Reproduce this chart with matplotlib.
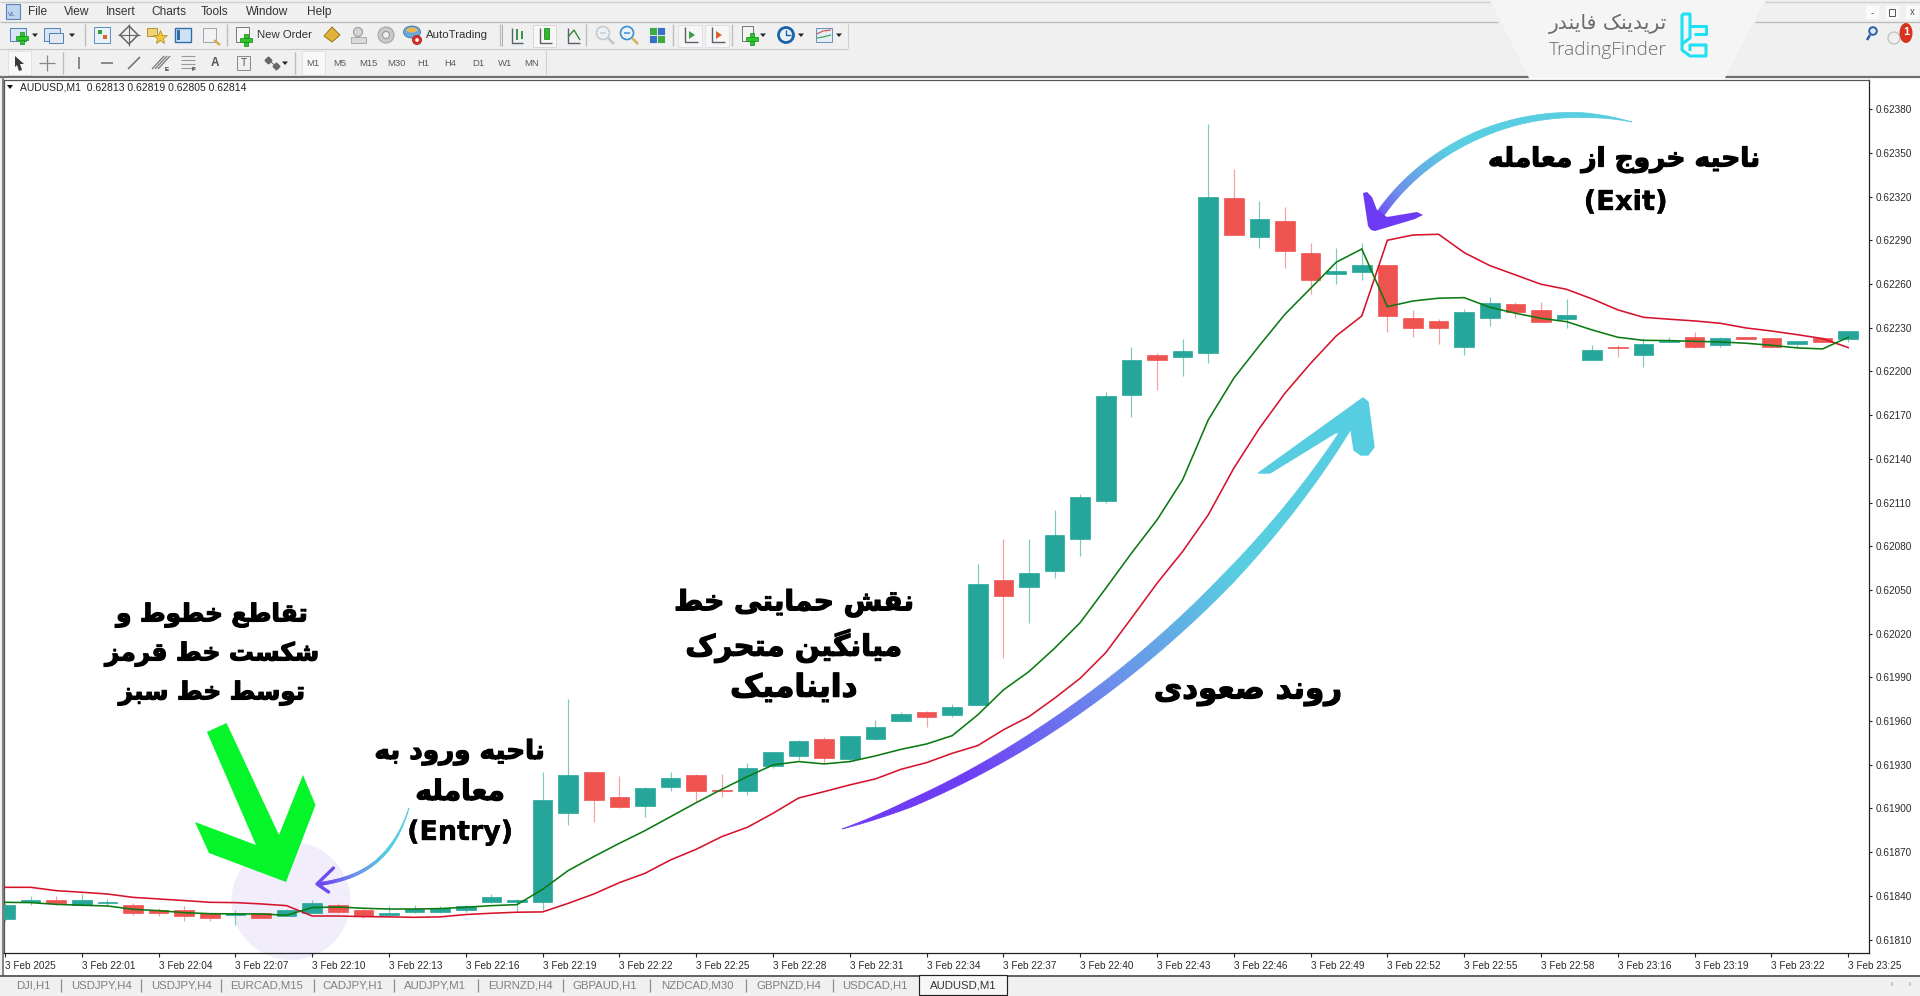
import numpy as np
import matplotlib
matplotlib.use("Agg")
import matplotlib.pyplot as plt
import matplotlib.patheffects as pe
from matplotlib.patches import Rectangle, Polygon, Circle, Ellipse
from matplotlib.collections import PolyCollection

# ---------- data (price in 1e-5 units) ----------
open_pts = [61824,61836,61837,61834,61835,61834,61830,61830,61828,61827,
            61828,61826,61828,61834,61830,61827,61829,61829,61830,61836,
            61836,61836,61897,61925,61908,61902,61915,61923,61913,61912,
            61929,61936,61948,61934,61948,61960,61966,61964,61971,62057,
            62052,62063,62085,62111,62184,62211,62210,62213,62319,62292,
            62303,62281,62267,62268,62273,62237,62235,62217,62237,62246,
            62242,62236,62208,62217,62211,62220,62224,62218,62224,62223,
            62219,62223,62222]
high_pts = [61835,61840,61840,61841,61838,61835,61832,61833,61828,61830,
            61828,61831,61837,61835,61831,61833,61834,61833,61834,61841,
            61838,61925,61975,61925,61922,61915,61925,61924,61924,61931,
            61939,61947,61949,61950,61961,61966,61967,61972,62068,62085,
            62085,62105,62116,62186,62217,62213,62222,62370,62339,62317,
            62313,62288,62285,62288,62273,62242,62236,62243,62251,62248,
            62248,62250,62218,62218,62223,62224,62227,62224,62224,62223,
            62221,62224,62228]
low_pts = [61823,61834,61834,61833,61833,61827,61826,61823,61823,61820,
           61825,61826,61828,61828,61825,61826,61828,61828,61829,61835,
           61829,61830,61889,61891,61900,61894,61912,61905,61908,61909,
           61928,61933,61931,61932,61947,61960,61956,61963,61971,62003,
           62027,62058,62073,62110,62169,62187,62197,62206,62294,62285,
           62271,62253,62260,62263,62227,62224,62219,62211,62231,62237,
           62234,62230,62208,62210,62203,62220,62216,62217,62222,62216,
           62216,62220,62220]
close_pts = [61834,61837,61835,61837,61836,61828,61828,61826,61825,61828,
             61825,61830,61835,61829,61826,61828,61831,61832,61833,61839,
             61837,61906,61923,61906,61901,61914,61921,61912,61912,61928,
             61939,61946,61935,61950,61956,61965,61963,61970,62054,62046,
             62062,62088,62114,62183,62208,62208,62214,62320,62294,62305,
             62283,62263,62269,62273,62238,62230,62230,62241,62247,62241,
             62234,62239,62215,62216,62219,62221,62217,62223,62222,62217,
             62221,62220,62228]
red_line_pts = [61845.9,61845.9,61843.6,61842.5,61841.3,61839.0,61837.9,61836.8,61835.6,61835.4,
                61834.5,61833.3,61826.2,61826.2,61825.8,61825.6,61825.3,61825.6,61827.2,61828.1,
                61828.8,61829.0,61834.9,61841.3,61849.1,61855.5,61864.7,61872.0,61880.7,61887.1,
                61896.7,61907.2,61911.6,61916.2,61920.3,61926.9,61931.5,61937.9,61943.2,61954.0,
                61963.1,61975.7,61989.4,62007.0,62030.6,62054.6,62076.4,62101.5,62133.6,62161.0,
                62185.1,62205.6,62224.4,62238.1,62290.1,62293.7,62294.2,62281.6,62272.7,62266.3,
                62259.9,62256.4,62249.8,62242.3,62237.2,62235.9,62234.7,62233.1,62229.9,62227.8,
                62225.3,62222.6,62216.4]
green_line_pts = [61835.6,61835.4,61834.2,61833.6,61833.1,61830.8,61829.9,61828.5,61827.8,61827.6,
                  61827.6,61826.7,61832.0,61832.4,61831.5,61831.0,61831.0,61831.3,61832.2,61833.3,
                  61834.0,61844.5,61857.4,61867.0,61876.1,61884.8,61894.4,61904.0,61913.2,61921.9,
                  61929.9,61932.2,61930.6,61932.2,61936.1,61940.6,61944.3,61950.0,61964.3,61981.4,
                  61994.0,62010.0,62027.6,62051.2,62075.2,62098.1,62125.6,62166.7,62195.4,62217.8,
                  62239.3,62257.1,62275.0,62284.1,62244.5,62248.4,62250.3,62250.7,62244.1,62240.0,
                  62236.5,62234.2,62228.5,62223.5,62221.4,62221.2,62220.7,62220.3,62219.4,62218.0,
                  62216.2,62215.5,62223.5]
x_tick_labels = ["3 Feb 2025","3 Feb 22:01","3 Feb 22:04","3 Feb 22:07","3 Feb 22:10","3 Feb 22:13",
                 "3 Feb 22:16","3 Feb 22:19","3 Feb 22:22","3 Feb 22:25","3 Feb 22:28","3 Feb 22:31",
                 "3 Feb 22:34","3 Feb 22:37","3 Feb 22:40","3 Feb 22:43","3 Feb 22:46","3 Feb 22:49",
                 "3 Feb 22:52","3 Feb 22:55","3 Feb 22:58","3 Feb 23:16","3 Feb 23:19","3 Feb 23:22",
                 "3 Feb 23:25"]
y_tick_values = [0.62380,0.62350,0.62320,0.62290,0.62260,0.62230,0.62200,0.62170,0.62140,0.62110,
                 0.62080,0.62050,0.62020,0.61990,0.61960,0.61930,0.61900,0.61870,0.61840,0.61810]
tab_labels = ["DJI,H1","USDJPY,H4","USDJPY,H4","EURCAD,M15","CADJPY,H1","AUDJPY,M1","EURNZD,H4",
              "GBPAUD,H1","NZDCAD,M30","GBPNZD,H4","USDCAD,H1","AUDUSD,M1"]
menu_labels = ["File","View","Insert","Charts","Tools","Window","Help"]
period_labels = ["M1","M5","M15","M30","H1","H4","D1","W1","MN"]
chart_header = "AUDUSD,M1  0.62813 0.62819 0.62805 0.62814"

# ---------- Persian shaping (matplotlib draws no joins or RTL by itself) ----------
FORMS = {'ا':(0xFE8D,0xFE8E,None,None),'ب':(0xFE8F,0xFE90,0xFE91,0xFE92),'ت':(0xFE95,0xFE96,0xFE97,0xFE98),
 'ج':(0xFE9D,0xFE9E,0xFE9F,0xFEA0),'ح':(0xFEA1,0xFEA2,0xFEA3,0xFEA4),'خ':(0xFEA5,0xFEA6,0xFEA7,0xFEA8),
 'د':(0xFEA9,0xFEAA,None,None),'ر':(0xFEAD,0xFEAE,None,None),'ز':(0xFEAF,0xFEB0,None,None),
 'س':(0xFEB1,0xFEB2,0xFEB3,0xFEB4),'ش':(0xFEB5,0xFEB6,0xFEB7,0xFEB8),'ص':(0xFEB9,0xFEBA,0xFEBB,0xFEBC),
 'ط':(0xFEC1,0xFEC2,0xFEC3,0xFEC4),'ع':(0xFEC9,0xFECA,0xFECB,0xFECC),'ف':(0xFED1,0xFED2,0xFED3,0xFED4),
 'ق':(0xFED5,0xFED6,0xFED7,0xFED8),'ل':(0xFEDD,0xFEDE,0xFEDF,0xFEE0),'م':(0xFEE1,0xFEE2,0xFEE3,0xFEE4),
 'ن':(0xFEE5,0xFEE6,0xFEE7,0xFEE8),'ه':(0xFEE9,0xFEEA,0xFEEB,0xFEEC),'و':(0xFEED,0xFEEE,None,None),
 'ی':(0xFBFC,0xFBFD,0xFBFE,0xFBFF),'ک':(0xFB8E,0xFB8F,0xFB90,0xFB91),'گ':(0xFB92,0xFB93,0xFB94,0xFB95)}

def fa(s):
    out = []
    for i, c in enumerate(s):
        f = FORMS.get(c)
        if f is None:
            out.append(c)
            continue
        prev = FORMS.get(s[i-1]) if i > 0 else None
        nxt = FORMS.get(s[i+1]) if i+1 < len(s) else None
        jp = prev is not None and prev[2] is not None
        jn = nxt is not None and f[2] is not None
        code = f[3] if (jp and jn) else f[1] if jp else f[2] if jn else f[0]
        out.append(chr(code))
    return ''.join(reversed(out))

# ---------- figure and layers ----------
W, H = 1920, 996
fig = plt.figure(figsize=(W/100, H/100), dpi=100)
UI = ['Liberation Sans', 'DejaVu Sans']
bg = fig.add_axes([0, 0, 1, 1], zorder=0)
bg.set_xlim(0, W); bg.set_ylim(H, 0); bg.axis('off')
L, R, T, B = 4, 1869, 80, 953
ax = fig.add_axes([L/W, 1-B/H, (R-L)/W, (B-T)/H], zorder=1)
ax.patch.set_alpha(0)
top = fig.add_axes([0, 0, 1, 1], zorder=2)
top.set_xlim(0, W); top.set_ylim(H, 0); top.axis('off'); top.patch.set_alpha(0)

def rect(x, y, w, h, fc='none', ec='none', lw=0.7, a=bg, z=2):
    a.add_patch(Rectangle((x, y), w, h, facecolor=fc, edgecolor=ec, linewidth=lw, zorder=z))
def line(xs, ys, c='#888888', lw=0.8, a=bg, z=3):
    a.plot(xs, ys, color=c, lw=lw, zorder=z, solid_capstyle='butt')
def txt(x, y, s, size=8.2, c='#333333', ha='left', a=bg, **k):
    return a.text(x, y, s, fontsize=size, color=c, ha=ha, va='center', family=UI, zorder=5, **k)

# ---------- window chrome ----------
rect(0, 0, W, H, fc='#F0F0F0', z=0)
rect(4, 78, W-4, 898, fc='white', z=1)
line([0, 1490], [1.5, 1.5], '#CFCFCF', 1); line([1765, 1920], [1.5, 1.5], '#CFCFCF', 1)
line([0, 1498], [21.5, 21.5], '#B9B9B9', 0.9); line([1755, 1920], [21.5, 21.5], '#B9B9B9', 0.9)
line([0, 848], [48.5, 48.5], '#C8C8C8', 0.8)
line([0, 1530], [76.5, 76.5], '#6E6E6E', 1.6); line([1725, 1920], [76.5, 76.5], '#6E6E6E', 1.6)
line([3, 3], [76, 976], '#7A7A7A', 1.3)
line([0, W], [975.5, 975.5], '#555555', 1.3)
bg.add_patch(Polygon([(1490, 0), (1765, 0), (1725, 78), (1529, 78)], closed=True, fc='#F5F5F5', ec='none', zorder=4))

# menu
for s, x in zip(menu_labels, [28, 64, 106, 151, 201, 246, 307]):
    txt(x, 12, s, 8.6)
rect(6, 4, 14, 15, fc='#BFD4EE', ec='#5B83B8', lw=0.8)
txt(8, 14, "VL", 4.5, c='#2D5C9C')

# tiny toolbar icons
def chart_icon(x, y):
    rect(x-9, y-7, 16, 13, fc='#D6E4F5', ec='#4F7FB5')
def plus(x, y):
    rect(x-2, y-6, 4, 12, fc='#2EC42E', ec='#128A12', lw=0.5, z=3)
    rect(x-6, y-2, 12, 4, fc='#2EC42E', ec='#128A12', lw=0.5, z=3)
def drop(x, y):
    bg.add_patch(Polygon([(x-3, y-1.5), (x+3, y-1.5), (x, y+2)], closed=True, fc='#222222', zorder=3))
def sep(x, y0, y1):
    line([x, x], [y0, y1], '#BDBDBD', 1)

c1 = 35
chart_icon(19, c1); plus(22, c1+3); drop(35, c1)
chart_icon(53, c1); rect(49, c1-2, 14, 10, fc='#E4EAF2', ec='#4F7FB5'); drop(72, c1)
sep(85, 24, 46)
rect(94, c1-8, 16, 16, fc='#E9F2FB', ec='#5B8DBF'); rect(98, c1-5, 4, 4, fc='#30A030', z=3); rect(103, c1, 4, 4, fc='#D9662B', z=3)
bg.add_patch(Polygon([(129, c1-9), (138, c1), (129, c1+9), (120, c1)], closed=True, fc='none', ec='#666666', lw=1.1, zorder=3))
line([129, 129], [c1-11, c1+11], '#666666', 0.8); line([118, 140], [c1, c1], '#666666', 0.8)
rect(147, c1-7, 10, 8, fc='#F1D37A', ec='#B6932C'); bg.plot([160], [c1+2], marker='*', ms=10, color='#F2C93B', mec='#B6932C', mew=0.6, zorder=3)
rect(175, c1-7, 16, 14, fc='#CFE2F5', ec='#2F6DA8', lw=1); rect(177, c1-5, 3, 10, fc='#2F6DA8', z=3)
rect(203, c1-7, 13, 14, fc='#F2F2F2', ec='#9AA6B4'); line([214, 220], [c1+5, c1+10], '#D8A93A', 1.6)
sep(227, 24, 46)
rect(236, c1-8, 13, 15, fc='#F7F7F7', ec='#777777'); plus(246, c1+5)
txt(257, c1, "New Order", 8.2)
bg.add_patch(Polygon([(332, c1-8), (340, c1), (332, c1+7), (324, c1+1)], closed=True, fc='#E2B23B', ec='#9A7418', lw=0.7, zorder=3))
bg.add_patch(Circle((358, c1-3), 4.5, fc='#D6D6D6', ec='#999999', lw=0.8, zorder=3)); rect(351, c1+2, 15, 6, fc='#DADADA', ec='#AAAAAA')
bg.add_patch(Circle((386, c1), 8, fc='#C9C9C9', ec='#A5A5A5', lw=0.8, zorder=3)); bg.add_patch(Circle((386, c1), 3.5, fc='#EFEFEF', ec='#999999', lw=0.8, zorder=3))
bg.add_patch(Ellipse((412, c1-3), 17, 12, fc='#6EA8D8', ec='#3C76A8', lw=0.6, zorder=3)); bg.add_patch(Ellipse((412, c1-5), 11, 5, fc='#E8B84A', zorder=3))
bg.add_patch(Circle((417, c1+5), 4.5, fc='#D8322B', ec='#A31E1A', lw=0.6, zorder=4)); bg.add_patch(Circle((417, c1+5), 1.8, fc='white', zorder=5))
txt(426, c1, "AutoTrading", 8.2)
sep(500, 24, 46); line([502, 502], [24, 46], '#9F9F9F', 0.6, z=3)
line([512, 512, 523], [c1-7, c1+8, c1+8], '#55616E', 1); line([517, 517], [c1-6, c1+5], '#2F8A3B', 1.3); line([522, 522], [c1-4, c1+4], '#2F8A3B', 1.3)
rect(533, 25, 23, 22, fc='#F7F7F7', ec='#D8D8D8')
line([540, 540, 552], [c1-7, c1+8, c1+8], '#55616E', 1); rect(544, c1-7, 5, 11, fc='#2EB82E', ec='#127F12', lw=0.5, z=4)
line([568, 568, 580], [c1-7, c1+8, c1+8], '#55616E', 1); line([568, 574, 580], [c1+2, c1-5, c1+5], '#2F8A3B', 1)
sep(586, 24, 46)
for xc, col in [(605, '#C9C9C9'), (629, '#3C8FD0')]:
    bg.add_patch(Circle((xc-2, c1-2), 6.5, fc='#EAF2F8', ec=col, lw=1.2, zorder=3))
    line([xc+3, xc+9], [c1+3, c1+9], '#D8B25A' if xc > 620 else '#C4C4C4', 1.8)
    line([xc-5, xc+1], [c1-2, c1-2], col, 1.1, z=4)
for dx, dy, col in [(-8, -8, '#3DAA46'), (0, -8, '#3A6FC8'), (-8, 0, '#3A6FC8'), (0, 0, '#3DAA46')]:
    rect(657+dx, c1+dy, 8, 8, fc=col, ec='white', lw=0.5)
sep(673, 24, 46)
rect(678, 25, 24, 22, fc='#F6F6F6', ec='#E0E0E0'); rect(705, 25, 24, 22, fc='#F6F6F6', ec='#E0E0E0')
for xc, col in [(685, '#3BA04B'), (712, '#D8632F')]:
    line([xc, xc, xc+13], [c1-8, c1+7, c1+7], '#55616E', 1, z=4)
    bg.add_patch(Polygon([(xc+4, c1-4), (xc+10, c1), (xc+4, c1+4)], closed=True, fc=col, zorder=4))
sep(732, 24, 46)
rect(742, c1-9, 11, 15, fc='#F3F3F3', ec='#777777'); plus(752, c1+4); drop(763, c1)
bg.add_patch(Circle((786, c1), 7.5, fc='#EAF2F8', ec='#1763AD', lw=2, zorder=3)); line([786, 786, 791], [c1-5, c1, c1], '#1763AD', 1); drop(801, c1)
rect(816, c1-7, 16, 14, fc='#E4EEF7', ec='#6B90B5'); line([817, 823, 831], [c1-1, c1-4, c1-5], '#D25B5B', 0.9); line([817, 823, 831], [c1+3, c1+2, c1], '#45A550', 0.9); drop(839, c1)
line([848, 848], [24, 48], '#CFCFCF', 0.8)

c2 = 63
rect(8, 51, 23, 24, fc='#F8F8F8', ec='#E2E2E2')
bg.add_patch(Polygon([(15, c2-7), (24, c2+1), (20, c2+1), (22, c2+7), (19, c2+8), (17, c2+2), (15, c2+4)], closed=True, fc='#3A3A3A', zorder=3))
line([47, 47], [c2-8, c2+8], '#888888', 0.9); line([39, 55], [c2, c2], '#888888', 0.9)
sep(63, 52, 74)
line([79, 79], [c2-6, c2+6], '#777777', 1.2); line([101, 113], [c2, c2], '#777777', 1.2); line([128, 140], [c2+6, c2-6], '#777777', 1.2)
for d in [-3, 0, 3]:
    line([155+d, 167+d], [c2+6, c2-7], '#777777', 0.9)
txt(165, c2+6, "E", 4.5, fontweight='bold')
for d in [-7, -3, 1, 5]:
    line([181, 195], [c2+d, c2+d], '#999999', 0.8)
txt(192, c2+6, "F", 4.5, fontweight='bold')
txt(215, c2, "A", 8.5, c='#555555', ha='center', fontweight='bold')
rect(237, c2-7, 13, 14, ec='#888888'); txt(243.5, c2, "T", 7.5, c='#555555', ha='center')
bg.plot([268, 276], [c2-3, c2+3], marker='D', ms=3.5, color='#666666', lw=0.7, zorder=3); drop(285, c2)
sep(295, 52, 74)
rect(302, 51, 23, 24, fc='#F8F8F8', ec='#E2E2E2')
for s, x in zip(period_labels, [313, 340, 368, 396, 423, 450, 478, 505, 532]):
    txt(x, c2, s, 6.8, c='#5A5A5A', ha='center')
line([546, 546], [50, 75], '#CFCFCF', 0.8)

# right-hand corner
for x in (1872, 1892, 1912):
    rect(x-6, 6, 13, 13, fc='#FAFAFA', z=2)
txt(1872, 13, "-", 7, c='#555555', ha='center'); rect(1889, 9, 6, 7, ec='#555555', lw=0.7); txt(1912, 12, "x", 7, c='#555555', ha='center')
bg.add_patch(Circle((1873, 31), 3.8, fc='#DFE9F5', ec='#2A5FA8', lw=1.4, zorder=3)); line([1870, 1867], [35, 40], '#2A5FA8', 1.8)
bg.add_patch(Circle((1894, 38), 6, fc='#EFEFEF', ec='#BBBBBB', lw=0.8, zorder=3))
bg.add_patch(Ellipse((1906, 33), 13, 20, fc='#D8331F', zorder=4)); txt(1906, 32, "1", 8, c='white', ha='center', fontweight='bold')

# logo
logo_gray = '#6B6B6B'
bg.text(1608, 24, fa("تریدینک فایندر"), fontsize=14.6, color=logo_gray, ha='center', va='center', family='DejaVu Sans', zorder=5)
bg.text(1608, 50, "TradingFinder", fontsize=13.8, color=logo_gray, ha='center', va='center', family='Open Sans', fontweight='light', zorder=5)
cy = '#1FE0F0'
line([1682, 1690, 1690, 1682, 1682], [14, 14, 38, 44, 14], cy, 2.2, z=5)
line([1690, 1706, 1706, 1694], [26, 26, 34, 34], cy, 2.2, z=5)
line([1682, 1682, 1690, 1706, 1706, 1690, 1690], [44, 50, 56, 56, 45, 45, 51], cy, 2.2, z=5)

# chart header
bg.add_patch(Polygon([(7, 85), (13, 85), (10, 89)], closed=True, fc='#111111', zorder=5))
txt(19.5, 87, chart_header, 7.5, c='#222222')

# tabs
tab_seps = [61, 141, 221, 314, 394, 477.6, 563, 650, 746, 832.6]
tab_centres = [33, 101, 181, 267, 353, 435, 520, 605, 697, 788.6, 875, 963]
for x in tab_seps:
    line([x, x], [979, 992], '#8A8A8A', 0.9)
rect(919, 975, 88, 20, fc='#F7F7F7', ec='#222222', lw=0.85, z=3)
for i, (s, x) in enumerate(zip(tab_labels, tab_centres)):
    txt(x, 985, s, 8.2, c='#333333' if i == 11 else '#7F7F7F', ha='center')
txt(1891, 984, "‹", 8, c='#A5A5A5', ha='center'); txt(1909, 984, "›", 8, c='#A5A5A5', ha='center')

# entry highlight sits behind the chart
bg.add_patch(Ellipse((291, 901), 119, 118, fc='#F1EDFB', ec='none', zorder=2))

# ---------- chart ----------
o, h, l, c = [np.array(v, dtype=float)/1e5 for v in (open_pts, high_pts, low_pts, close_pts)]
xs = np.arange(len(o))
up = c >= o
TEAL, REDC = '#26A69A', '#EF5350'
ax.vlines(xs[up], l[up], h[up], color='#7CC9C1', lw=0.85, zorder=2)
ax.vlines(xs[~up], l[~up], h[~up], color='#F4A09E', lw=0.85, zorder=2)
ax.bar(xs[up], (c-o)[up], bottom=o[up], width=0.76, color=TEAL, edgecolor=TEAL, lw=0.5, zorder=3)
ax.bar(xs[~up], (c-o)[~up], bottom=o[~up], width=0.76, color=REDC, edgecolor=REDC, lw=0.5, zorder=3)
ax.plot(xs, np.array(red_line_pts)/1e5, color='#D7132B', lw=1.15, zorder=4, solid_joinstyle='miter')
ax.plot(xs, np.array(green_line_pts)/1e5, color='#0B7A12', lw=1.15, zorder=5, solid_joinstyle='miter')

ax.set_xlim((L-5)/25.6, (R-5)/25.6)
ax.set_ylim(0.618008, 0.624001)
ax.set_xticks(np.arange(0, 73, 3))
ax.set_xticklabels(x_tick_labels, ha='left', fontsize=7.2, family=UI, color='#2A2A2A')
ax.yaxis.tick_right()
ax.set_yticks(y_tick_values)
ax.set_yticklabels([f"{v:.5f}" for v in y_tick_values], fontsize=7.2, family=UI, color='#2A2A2A')
ax.tick_params(axis='x', length=3, width=0.8, pad=2.5, color='#222222')
ax.tick_params(axis='y', length=2.5, width=0.8, pad=2, color='#222222')
for s, col in [('left', '#555555'), ('top', '#555555'), ('right', '#222222'), ('bottom', '#222222')]:
    ax.spines[s].set_color(col); ax.spines[s].set_linewidth(0.9)

# ---------- annotations ----------
PURPLE = np.array(matplotlib.colors.to_rgb('#6E3BF5'))
BLUE = np.array(matplotlib.colors.to_rgb('#6A8FEA'))
CYAN = np.array(matplotlib.colors.to_rgb('#56CDE0'))

def bez(P, t):
    P = np.array(P, float); t = t[:, None]
    return (1-t)**3*P[0] + 3*(1-t)**2*t*P[1] + 3*(1-t)*t**2*P[2] + t**3*P[3]

def gradient_stroke(P, widths, colors, n=160):
    """widths/colors: functions of t along the stroke."""
    t = np.linspace(0, 1, n)
    pts = bez(P, t)
    d = np.gradient(pts, axis=0)
    nrm = np.c_[-d[:, 1], d[:, 0]] / np.hypot(d[:, 0], d[:, 1])[:, None]
    hw = (widths(t)/2)[:, None]
    a, b = pts + nrm*hw, pts - nrm*hw
    quads = [[a[i], a[i+1], b[i+1], b[i]] for i in range(n-1)]
    cols = [colors(u) for u in (t[:-1] + t[1:])/2]
    top.add_collection(PolyCollection(quads, facecolors=cols, edgecolors=cols, linewidths=0.4, zorder=6))

def mix(stops):
    ts = [s[0] for s in stops]; arr = np.array([s[1] for s in stops])
    return lambda u: tuple(np.interp(u, ts, arr[:, k]) for k in range(3))

# big green arrow
top.add_patch(Polygon([(207, 732), (226.5, 723), (279, 835), (303, 775), (315.5, 805), (286, 882),
                       (209, 853), (195, 822), (256, 845)], closed=True, fc='#05F52B', ec='none', zorder=6))
# trend arrow
gradient_stroke([(842, 829), (1030, 770), (1235, 610), (1352, 420)],
                lambda t: np.interp(t, [0, .12, .35, .7, 1], [0.2, 7.5, 11, 13, 8]),
                mix([(0, PURPLE), (.22, PURPLE), (.48, BLUE), (.72, CYAN), (1, CYAN)]))
top.add_patch(Polygon([(1258.6, 473), (1363, 398), (1368, 402), (1374, 447), (1368, 455), (1361, 455), (1354, 450), (1351, 430),
                       (1335, 433), (1270, 473)], closed=True, fc='#56CDE0', ec='#56CDE0', lw=1, joinstyle='round', zorder=6))
# exit arrow
gradient_stroke([(1632, 122), (1520, 95), (1420, 150), (1375, 222)],
                lambda t: np.interp(t, [0, .15, .5, 1], [0.2, 5, 7.5, 8]),
                mix([(0, CYAN), (.62, CYAN), (.85, BLUE), (1, PURPLE)]))
top.add_patch(Polygon([(1363, 193), (1367, 192), (1372, 197), (1377, 210), (1387, 217), (1417, 212), (1423, 215), (1415, 219),
                       (1375, 231), (1371, 230), (1368, 226)], closed=True, fc='#6E3BF5', ec='none', zorder=7))
# entry arrow
gradient_stroke([(409, 808), (392, 862), (360, 878), (320, 884)],
                lambda t: np.interp(t, [0, .3, 1], [0.3, 2.6, 3.2]),
                mix([(0, CYAN), (.35, CYAN), (.7, BLUE), (1, PURPLE)]))
top.plot([333.5, 317, 328.6], [868, 884, 892], color='#6E4BF0', lw=2.4, solid_capstyle='round', solid_joinstyle='round', zorder=7)

# ---------- Persian captions: each line is scaled to its measured width ----------
fig.canvas.draw()
rend = fig.canvas.get_renderer()
def caption(x, y, s, width, stroke=0.9):
    t = top.text(x, y, s, fontsize=24, fontweight='bold', color='black', ha='center', va='center',
                 family='DejaVu Sans', zorder=8)
    t.set_fontsize(24*width/t.get_window_extent(rend).width)
    t.set_path_effects([pe.withStroke(linewidth=stroke, foreground='black')])
    return t

caption(212, 615, fa("تقاطع خطوط و"), 192)
caption(212, 654, fa("شکست خط قرمز"), 215)
caption(212, 693, fa("توسط خط سبز"), 187)
caption(460, 752, fa("ناحیه ورود به"), 171)
caption(460, 792, fa("معامله"), 90)
caption(460, 833, "(Entry)", 106, 0.3)
caption(794, 603, fa("نقش حمایتی خط"), 241)
caption(794, 646, fa("میانگین متحرک"), 218)
caption(794, 688, fa("داینامیک"), 128)
caption(1248, 692, fa("روند صعودی"), 189)
caption(1624.5, 160, fa("ناحیه خروج از معامله"), 273)
caption(1625.6, 203, "(Exit)", 84, 0.3)

fig.savefig("out.png", dpi=100)
